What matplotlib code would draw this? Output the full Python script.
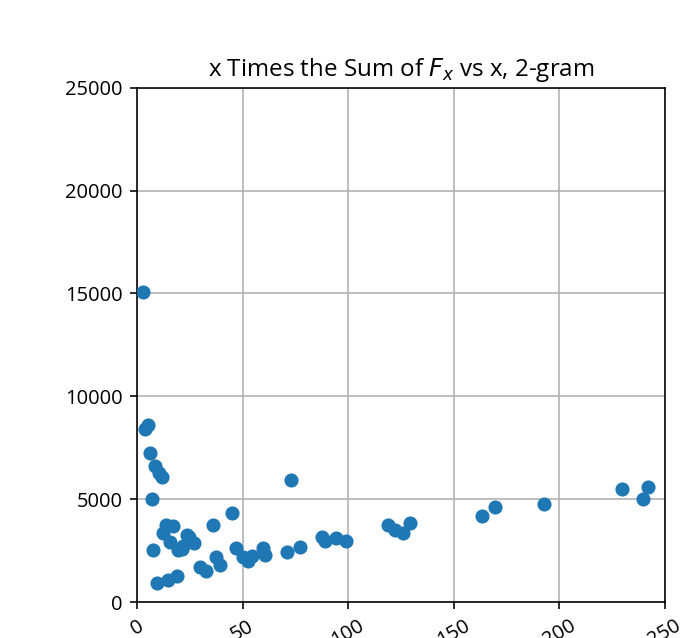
import matplotlib
matplotlib.use('Agg')
import matplotlib.pyplot as plt

plt.rcParams['font.family'] = ['Open Sans', 'DejaVu Sans']

x = [2.8, 3.8, 5.2, 6.2, 8.5, 10.4, 11.8, 7.1, 7.6, 9.5,
     14.7, 18.9, 13.7, 17.0, 12.3, 15.6, 19.4, 23.7, 24.6, 27.0,
     21.8, 21.3, 36.0, 45.0, 29.8, 32.7, 37.4, 39.3, 46.9, 50.2,
     52.6, 54.4, 59.7, 60.6, 71.0, 77.2, 72.9, 87.6, 89.0, 94.2,
     98.9, 118.8, 122.2, 125.9, 129.3, 163.4, 169.5, 192.7, 229.6, 239.6,
     242.0]
y = [15080, 8415, 8610, 7250, 6615, 6275, 6080, 5010, 2530, 925,
     1070, 1265, 3745, 3695, 3355, 2920, 2530, 3260, 3160, 2870,
     2720, 2580, 3745, 4330, 1700, 1510, 2190, 1800, 2630, 2190,
     1995, 2240, 2630, 2290, 2430, 2675, 5930, 3160, 2970, 3110,
     2970, 3745, 3500, 3355, 3840, 4180, 4620, 4770, 5500, 5010,
     5590]

dpi = 145
fig = plt.figure(figsize=(682 / dpi, 638 / dpi), dpi=dpi)
ax = fig.add_axes([0.2009, 0.0564, 0.774, 0.806])
ax.scatter(x, y, color='#1f77b4', zorder=3)
ax.set_xlim(0, 250)
ax.set_ylim(0, 25000)
ax.grid(True)
ax.set_axisbelow(True)
ax.tick_params(axis='x', labelrotation=30)
ax.set_title('x Times the Sum of $F_x$ vs x, 2-gram')

plt.savefig('out.png', dpi=dpi)
